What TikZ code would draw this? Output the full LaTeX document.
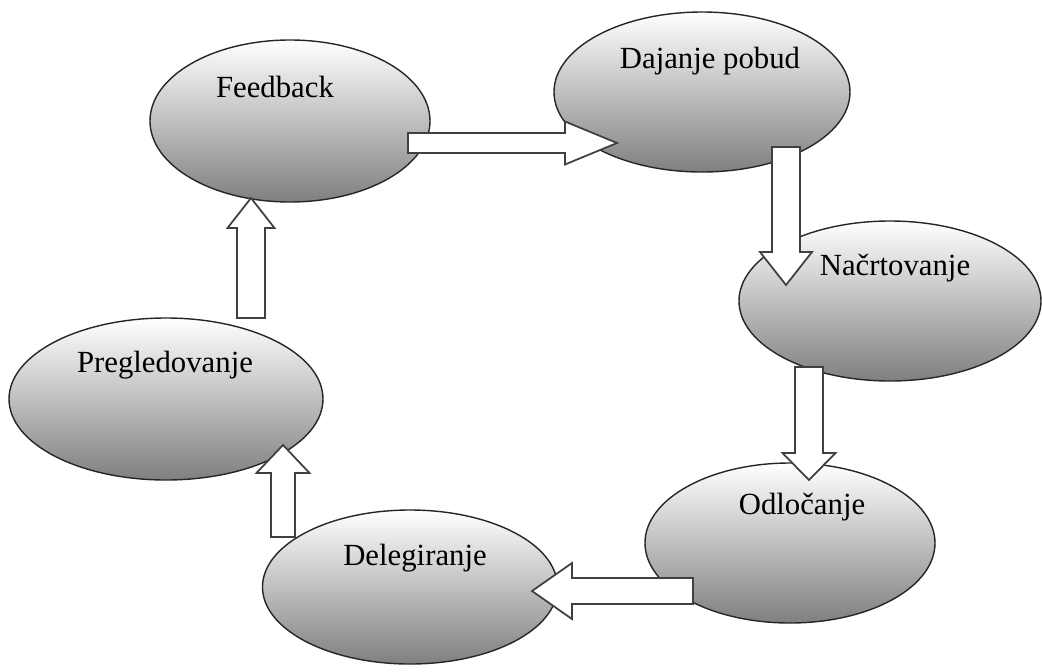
\documentclass[tikz,border=0pt]{standalone}
\usepackage{fontspec}
\setmainfont{Liberation Serif}
\usetikzlibrary{shapes,positioning,calc}

% hollow block arrow: tail, tip, half shaft, half head, head length
\newcommand{\blockarrow}[5]{%
  \coordinate (#2-base) at ($(#2)!#5!(#1)$);
  \draw[block] ($(#1)!#3!90:(#2)$) -- ($(#2-base)!#3!-90:(#1)$)
    -- ($(#2-base)!#4!-90:(#1)$) -- (#2) -- ($(#2-base)!#4!90:(#1)$)
    -- ($(#2-base)!#3!90:(#1)$) -- ($(#1)!#3!-90:(#2)$) -- cycle;
}

\begin{document}
\begin{tikzpicture}[on grid,auto]

  \tikzstyle{stage}=[ellipse,draw=black!85,line width=0.8pt,
                     top color=white,middle color=black!9,bottom color=black!50]
  \tikzstyle{stage text}=[font=\fontsize{17.5}{21}\selectfont,inner sep=0pt]
  \tikzstyle{block}=[draw=black!75,line width=1pt,fill=white,line join=miter]

  \useasboundingbox (0,0) rectangle (20.84,-13.42);

  \begin{scope}
    \node [stage,minimum width=5.6cm,minimum height=3.24cm] (fb) at (5.8,-2.42) {};
    \node [stage,minimum width=5.92cm,minimum height=3.2cm] (dp) [above right=0.58cm and 8.24cm of fb] {};
    \node [stage,minimum width=6.04cm,minimum height=3.2cm] (nac) [below right=4.18cm and 3.76cm of dp] {};
    \node [stage,minimum width=5.8cm,minimum height=3.2cm] (odl) [below left=4.84cm and 2cm of nac] {};
    \node [stage,minimum width=5.9cm,minimum height=3.08cm] (del) [below left=0.88cm and 7.6cm of odl] {};
    \node [stage,minimum width=6.28cm,minimum height=3.24cm] (preg) [above left=3.76cm and 4.88cm of del] {};

    \node [stage text] (fb-t) at ($(fb)+(-0.3,0.68)$) {Feedback};
    \node [stage text] (dp-t) at ($(dp)+(0.16,0.62)$) {Dajanje pobud};
    \node [stage text] (nac-t) at ($(nac)+(0.1,0.66)$) {Načrtovanje};
    \node [stage text] (odl-t) at ($(odl)+(0.24,0.72)$) {Odločanje};
    \node [stage text] (del-t) at ($(del)+(0.1,0.58)$) {Delegiranje};
    \node [stage text] (preg-t) at ($(preg)+(-0.02,0.68)$) {Pregledovanje};
  \end{scope}

  \coordinate (fb-out) at (8.16,-2.86);
  \coordinate (dp-in) at (12.34,-2.86);
  \coordinate (dp-out) at (15.72,-2.94);
  \coordinate (nac-in) at (15.72,-5.7);
  \coordinate (nac-out) at (16.18,-7.34);
  \coordinate (odl-in) at (16.18,-9.6);
  \coordinate (odl-out) at (13.86,-11.82);
  \coordinate (del-in) at (10.64,-11.82);
  \coordinate (del-out) at (5.66,-10.74);
  \coordinate (preg-in) at (5.66,-8.9);
  \coordinate (preg-out) at (5.02,-6.36);
  \coordinate (fb-in) at (5.02,-3.96);

  \blockarrow{fb-out}{dp-in}{0.2cm}{0.43cm}{1.04cm}
  \blockarrow{dp-out}{nac-in}{0.28cm}{0.52cm}{0.66cm}
  \blockarrow{nac-out}{odl-in}{0.28cm}{0.53cm}{0.54cm}
  \blockarrow{odl-out}{del-in}{0.26cm}{0.56cm}{0.8cm}
  \blockarrow{del-out}{preg-in}{0.24cm}{0.53cm}{0.56cm}
  \blockarrow{preg-out}{fb-in}{0.28cm}{0.47cm}{0.6cm}

\end{tikzpicture}
\end{document}
